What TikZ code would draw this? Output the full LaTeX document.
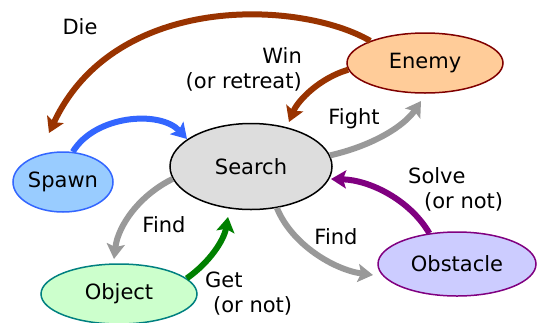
\documentclass[tikz,border=0pt]{standalone}
\usepackage{fontspec}
\setmainfont{DejaVu Sans}
\usetikzlibrary{shapes.geometric,arrows.meta}
\definecolor{brn}{HTML}{993300}
\definecolor{blu}{HTML}{3366FF}
\definecolor{gry}{HTML}{999999}
\definecolor{grn}{HTML}{008000}
\definecolor{prp}{HTML}{800080}
\begin{document}
\begin{tikzpicture}[x=1pt,y=-1pt,
  state/.style={ellipse,inner sep=0pt,line width=1.5pt,font=\fontsize{21}{25}\selectfont},
  lbl/.style={inner sep=0pt,font=\fontsize{21}{25}\selectfont},
  arr/.style={line width=6pt,-{Stealth[length=15pt,width=18pt,inset=3pt]}}]
\useasboundingbox (0,0) rectangle (540,322);
\node[state,fill={rgb,255:red,221;green,221;blue,221},draw=black,minimum width=162pt,minimum height=86pt] (search) at (251,166.5) {Search};
\node[state,fill={rgb,255:red,255;green,204;blue,153},draw={rgb,255:red,128;green,0;blue,0},minimum width=156pt,minimum height=60pt] (enemy) at (425,63) {Enemy};
\node[state,fill={rgb,255:red,153;green,204;blue,255},draw=blu,minimum width=100pt,minimum height=60pt] (spawn) at (63,182) {Spawn};
\node[state,fill={rgb,255:red,204;green,255;blue,204},draw={rgb,255:red,0;green,128;blue,128},minimum width=156pt,minimum height=60pt] (object) at (119,294) {Object};
\node[state,fill={rgb,255:red,204;green,204;blue,255},draw=prp,minimum width=158pt,minimum height=64pt] (obstacle) at (457,264) {Obstacle};
\coordinate (dieEnd) at (49,133);
\coordinate (winEnd) at (289,122);
\coordinate (spawnEnd) at (187,139);
\coordinate (fightEnd) at (421,101);
\coordinate (findLEnd) at (114,259);
\coordinate (getEnd) at (228,217);
\coordinate (findREnd) at (373,275);
\coordinate (solveEnd) at (331,179);
\draw[arr,brn] (enemy.158) .. controls (300,0) and (115,-8) .. (dieEnd);
\draw[arr,brn] (enemy.185) .. controls (320,78) and (298,100) .. (winEnd);
\draw[arr,blu] (spawn.72) .. controls (95,115) and (160,110) .. (spawnEnd);
\draw[arr,gry] (search.8) .. controls (375,145) and (405,125) .. (fightEnd);
\draw[arr,gry] (search.189) .. controls (140,195) and (118,225) .. (findLEnd);
\draw[arr,grn] (object.13) .. controls (210,262) and (224,240) .. (getEnd);
\draw[arr,gry] (search.302) .. controls (292,245) and (335,270) .. (findREnd);
\draw[arr,prp] (obstacle.132) .. controls (410,200) and (370,180) .. (solveEnd);
\node[lbl] (ldie) at (80,27) {Die};
\node[lbl,anchor=east,align=right] (lwin) at (302,69) {Win\\(or retreat)};
\node[lbl] (lfight) at (354,119) {Fight};
\node[lbl] (lfindl) at (164,225) {Find};
\node[lbl,anchor=west,align=left] (lget) at (205,294) {Get\\\hspace*{8pt}(or not)};
\node[lbl,anchor=west,align=left] (lsolve) at (408,189) {Solve\\\hspace*{16pt}(or not)};
\node[lbl] (lfindr) at (336,237) {Find};
\end{tikzpicture}
\end{document}
